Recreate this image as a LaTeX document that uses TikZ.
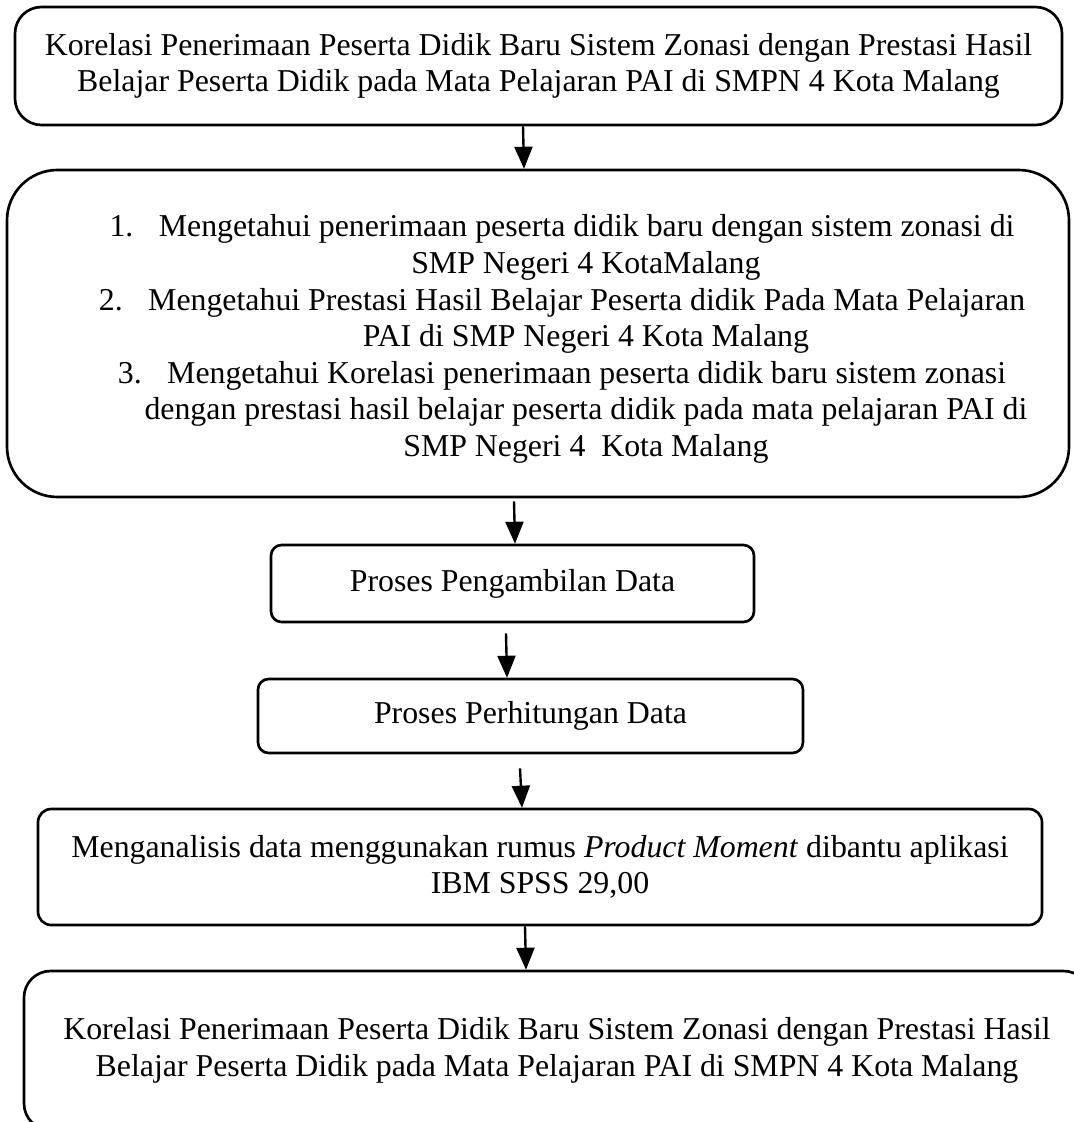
\documentclass[tikz,border=0pt]{standalone}
\usepackage{fontspec}
\setmainfont{Liberation Serif}
\usetikzlibrary{arrows}
\newcommand{\satuan}{0.377pt}

\begin{document}
\begin{tikzpicture}[>=triangle 45, x=\satuan, y=-\satuan,
		kotak/.style={draw, line width=1pt, inner sep=0pt, align=center,
			font=\fontsize{12}{13.8}\selectfont},
		teks/.style={inner sep=0pt, align=center, font=\fontsize{12}{13.8}\selectfont},
		panah/.style={->, line width=0.9pt}]
		\useasboundingbox (0,0) rectangle (1073,1122);

		\node[kotak, rounded corners=10pt, minimum width=1047*\satuan, minimum height=118*\satuan] (judul) at (538.5,66)
			{Korelasi Penerimaan Peserta Didik Baru Sistem Zonasi dengan Prestasi Hasil\\
			Belajar Peserta Didik pada Mata Pelajaran PAI di SMPN 4 Kota Malang};

		\node[kotak, rounded corners=19pt, minimum width=1062*\satuan, minimum height=327*\satuan] (tujuan) at (538,333.5) {};
		\node[teks] (tujuanteks) at (562,339)
			{1.\hspace{0.8em}Mengetahui penerimaan peserta didik baru dengan sistem zonasi di\\
			\hspace*{18pt}SMP Negeri 4 KotaMalang\\
			2.\hspace{0.8em}Mengetahui Prestasi Hasil Belajar Peserta didik Pada Mata Pelajaran\\
			\hspace*{18pt}PAI di SMP Negeri 4 Kota Malang\\
			3.\hspace{0.8em}Mengetahui Korelasi penerimaan peserta didik baru sistem zonasi\\
			\hspace*{18pt}dengan prestasi hasil belajar peserta didik pada mata pelajaran PAI di\\
			\hspace*{18pt}SMP Negeri 4\ \ Kota Malang};

		\node[kotak, rounded corners=4pt, minimum width=483*\satuan, minimum height=77*\satuan] (ambil) at (512.5,583.5)
			{Proses Pengambilan Data};
		\node[kotak, rounded corners=4pt, minimum width=545*\satuan, minimum height=74*\satuan] (hitung) at (530.5,716)
			{Proses Perhitungan Data};
		\node[kotak, rounded corners=5pt, minimum width=1004*\satuan, minimum height=116*\satuan] (analisis) at (540,867)
			{Menganalisis data menggunakan rumus \textit{Product Moment} dibantu aplikasi\\
			IBM SPSS 29,00};
		\node[kotak, rounded corners=10pt, minimum width=1066*\satuan, minimum height=159*\satuan] (hasil) at (557,1050.5)
			{Korelasi Penerimaan Peserta Didik Baru Sistem Zonasi dengan Prestasi Hasil\\
			Belajar Peserta Didik pada Mata Pelajaran PAI di SMPN 4 Kota Malang};

		\draw[panah] ([xshift=-15.5*\satuan]judul.south) -- ([xshift=-14*\satuan]tujuan.north);
		\draw[panah] ([xshift=-24*\satuan, yshift=-3*\satuan]tujuan.south) -- ([xshift=2.5*\satuan]ambil.north);
		\draw[panah] ([xshift=-6.5*\satuan, yshift=-10*\satuan]ambil.south) -- ([xshift=-23.5*\satuan]hitung.north);
		\draw[panah] ([xshift=-10.5*\satuan, yshift=-14*\satuan]hitung.south) -- ([xshift=-18*\satuan]analisis.north);
		\draw[panah] ([xshift=-15*\satuan]analisis.south) -- ([xshift=-31*\satuan]hasil.north);
	\end{tikzpicture}
\end{document}
